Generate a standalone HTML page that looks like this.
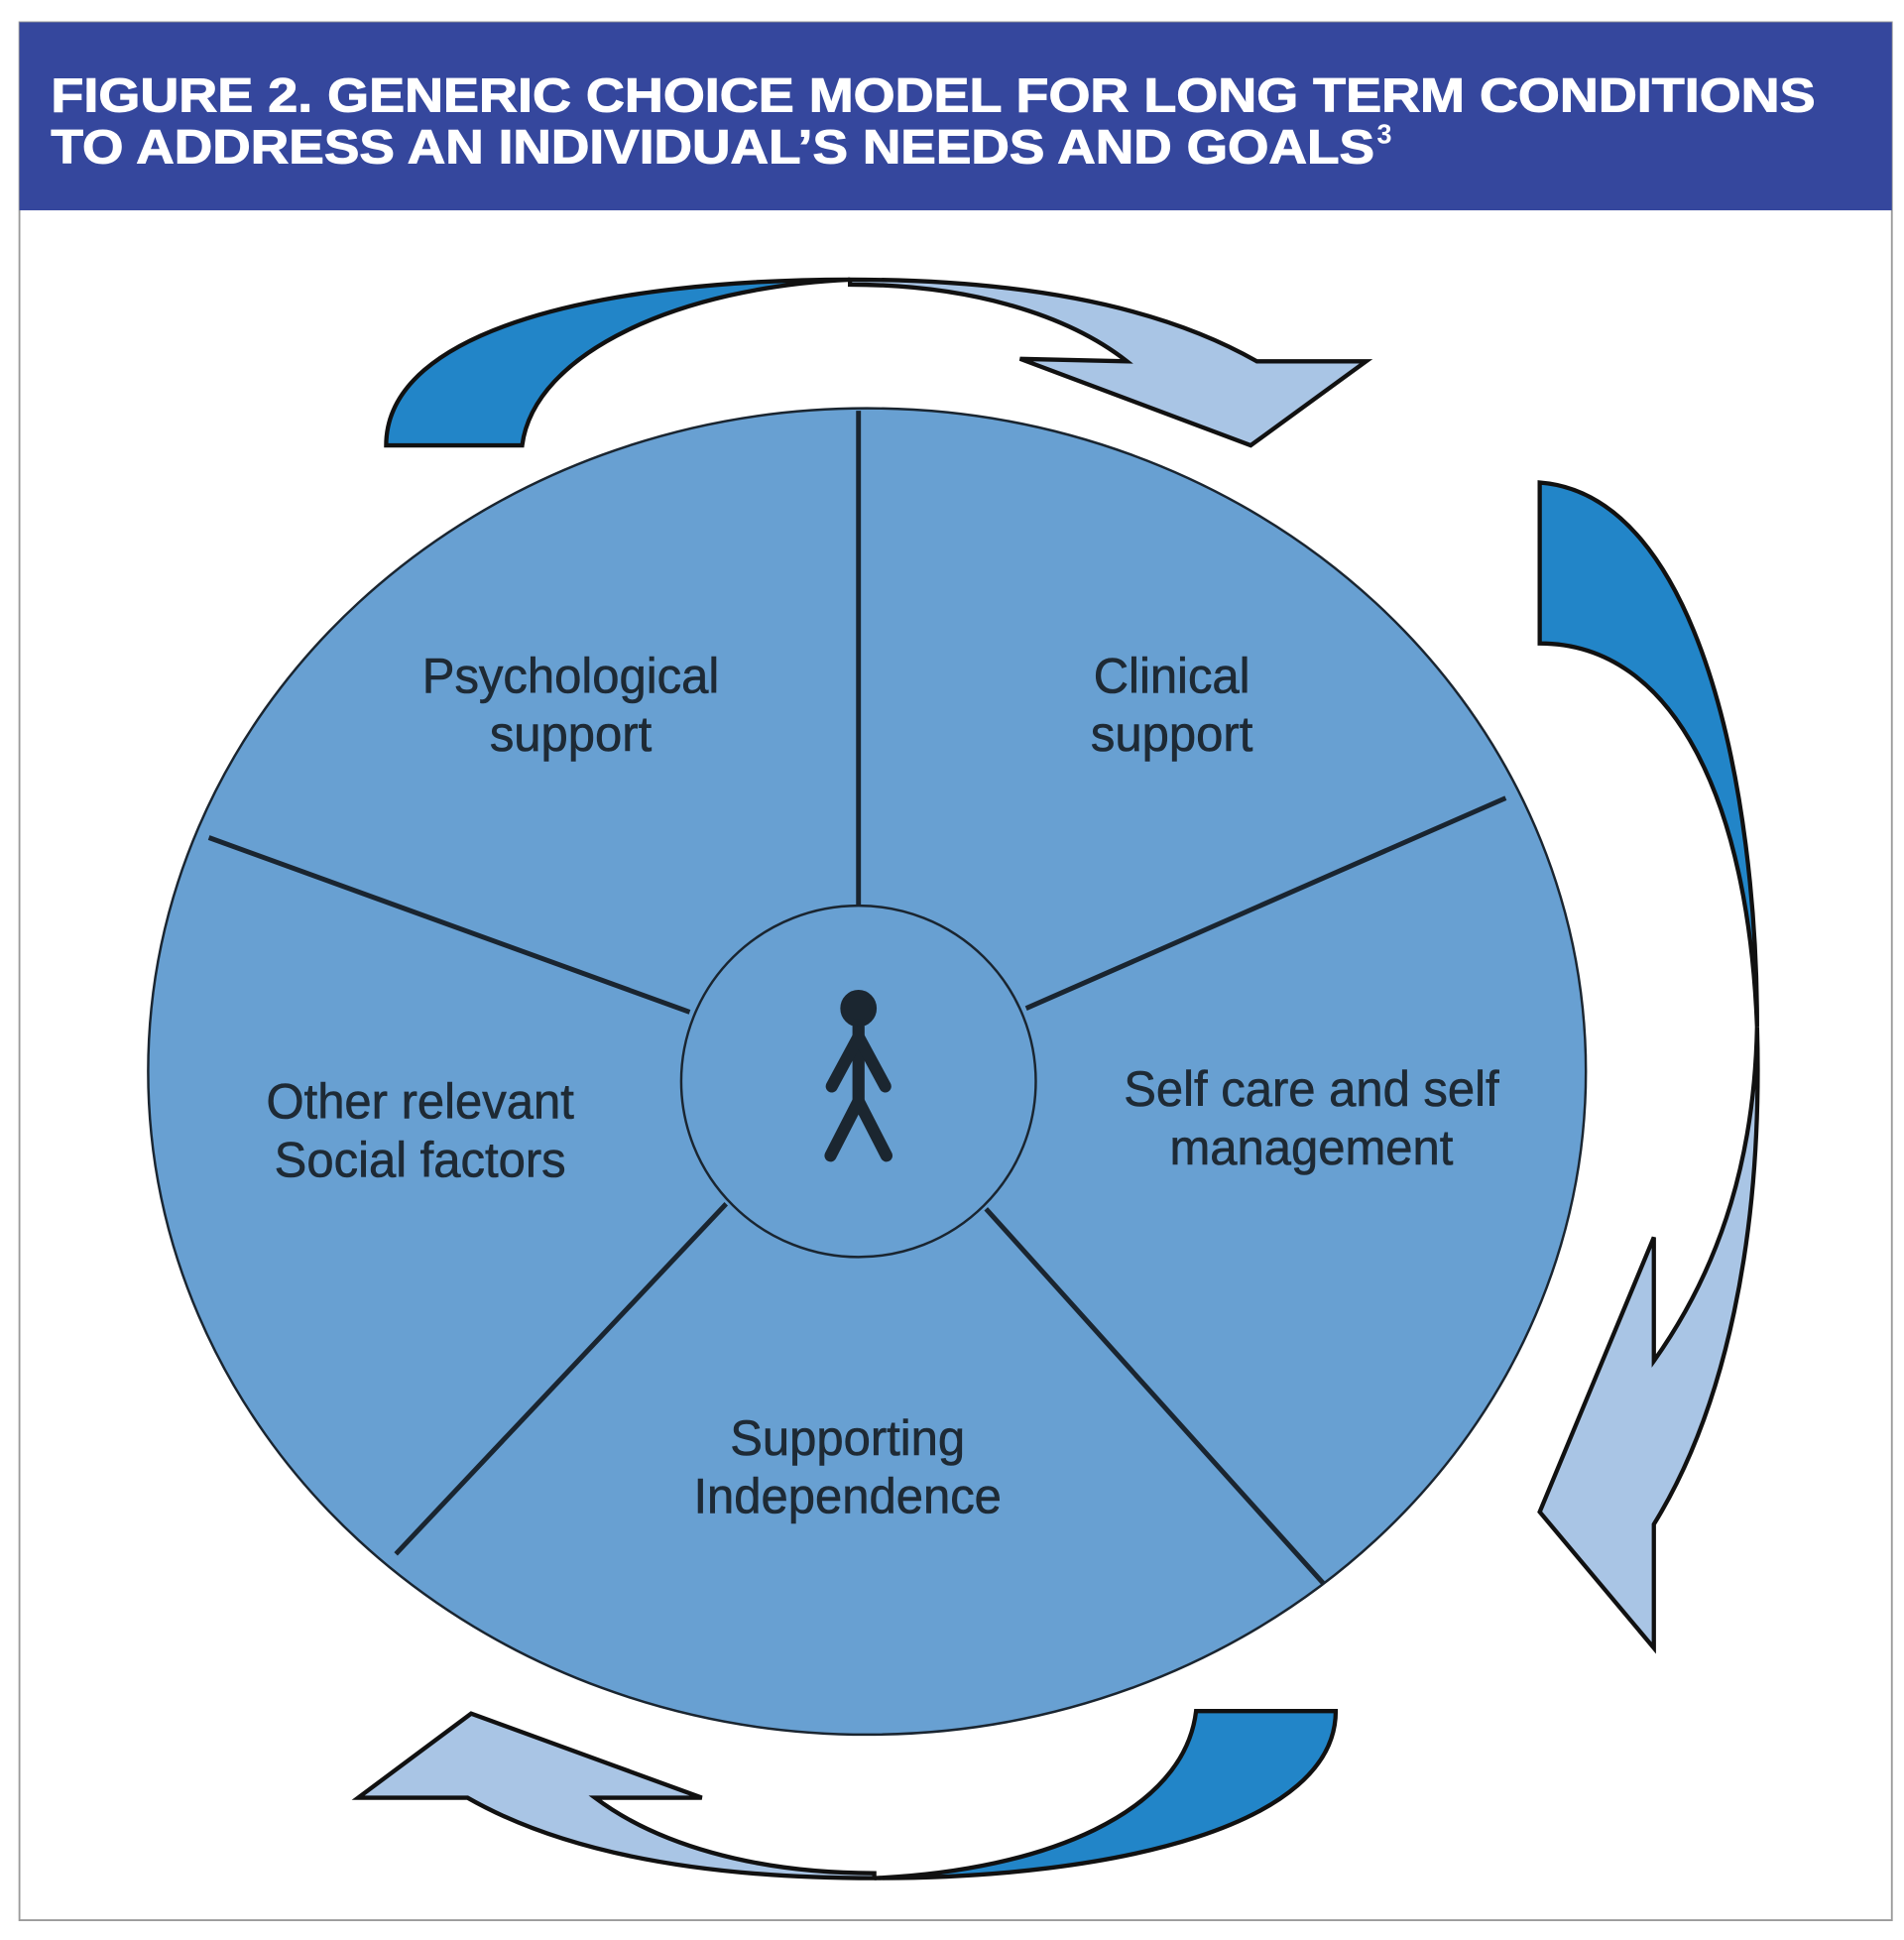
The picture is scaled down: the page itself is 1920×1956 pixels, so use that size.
<!DOCTYPE html>
<html><head><meta charset="utf-8"><style>
html,body{margin:0;padding:0;background:#fff}
svg{display:block}
</style></head><body>
<svg width="1920" height="1956" viewBox="0 0 1568 1568" preserveAspectRatio="none" xmlns="http://www.w3.org/2000/svg">
<rect x="16" y="18" width="1542" height="1534" fill="#fff" stroke="#9a9a9a" stroke-width="1.5"/>
<rect x="16" y="18" width="1542" height="152" fill="#35479d"/>
<text x="42" y="90" font-family="Liberation Sans, sans-serif" font-weight="bold" font-size="39" fill="#fff" stroke="#fff" stroke-width="0.8" textLength="1453" lengthAdjust="spacingAndGlyphs">FIGURE 2. GENERIC CHOICE MODEL FOR LONG TERM CONDITIONS</text>
<text x="42" y="132" font-family="Liberation Sans, sans-serif" font-weight="bold" font-size="39" fill="#fff" stroke="#fff" stroke-width="0.8" textLength="1090" lengthAdjust="spacingAndGlyphs">TO ADDRESS AN INDIVIDUAL’S NEEDS AND GOALS</text>
<text x="1134" y="116" font-family="Liberation Sans, sans-serif" font-weight="bold" font-size="22" fill="#fff">3</text>

<g stroke="#111" stroke-width="3.5" stroke-linejoin="miter">
<path d="M318,360 C318,265 500,226 700,226 C560,232 440,285 430,360 Z" fill="#2285c8"/>
<path d="M700,226 C850,226 960,250 1035,292 L1125,292 L1030,360 L840,290 L928,292 C880,255 800,230 700,230 Z" fill="#a9c5e5"/>
<path d="M1268,390 C1400,400 1447,640 1447,830 C1440,650 1380,520 1268,520 Z" fill="#2285c8"/>
<path d="M1447,830 C1452,1000 1420,1140 1362,1232 L1362,1332 L1268,1222 L1362,1000 L1362,1100 C1420,1020 1445,930 1447,830 Z" fill="#a9c5e5"/>
<path d="M1100,1383 C1100,1475 920,1518 720,1518 C860,1512 975,1465 985,1383 Z" fill="#2285c8"/>
<path d="M720,1518 C570,1518 460,1495 385,1453 L295,1453 L388,1385 L578,1453 L490,1453 C540,1490 620,1514 720,1514 Z" fill="#a9c5e5"/>
</g>

<ellipse cx="714" cy="866" rx="592" ry="536" fill="#68a0d2" stroke="#1a2530" stroke-width="2"/>
<g stroke="#1a2530" stroke-width="4">
<line x1="707" y1="332" x2="707" y2="732"/>
<line x1="1240" y1="645" x2="845" y2="815"/>
<line x1="172" y1="677" x2="568" y2="818"/>
<line x1="326" y1="1256" x2="598" y2="973"/>
<line x1="1090" y1="1280" x2="812" y2="977"/>
</g>
<ellipse cx="707" cy="874" rx="146" ry="142" fill="#68a0d2" stroke="#1a2530" stroke-width="2"/>
<g stroke="#1b2630" stroke-width="10" stroke-linecap="round" fill="none">
<circle cx="707" cy="815" r="12" fill="#1b2630" stroke-width="6"/>
<line x1="707" y1="830" x2="707" y2="890"/>
<polyline points="685,878 707,838 729,878"/>
<polyline points="684,934 707,890 730,934"/>
</g>

<g font-family="Liberation Sans, sans-serif" font-size="40" fill="#1e2a35" stroke="#1e2a35" stroke-width="0.5" text-anchor="middle">
<text x="470" y="560">Psychological</text><text x="470" y="607">support</text>
<text x="965" y="560">Clinical</text><text x="965" y="607">support</text>
<text x="346" y="904">Other relevant</text><text x="346" y="951">Social factors</text>
<text x="1080" y="894">Self care and self</text><text x="1080" y="941">management</text>
<text x="698" y="1176">Supporting</text><text x="698" y="1223">Independence</text>
</g>
</svg>
</body></html>
